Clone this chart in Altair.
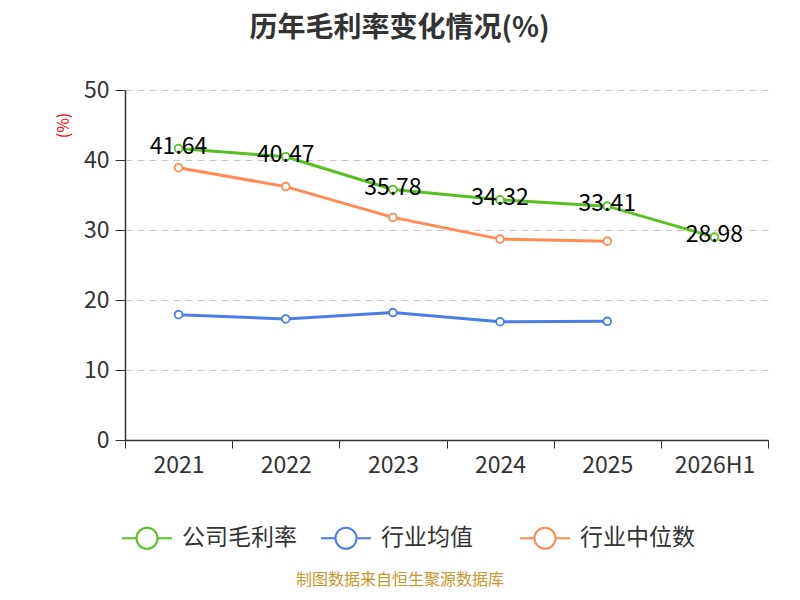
import pandas as pd
import altair as alt

# data
years = ["2021", "2022", "2023", "2024", "2025", "2026H1"]
company = [41.64, 40.47, 35.78, 34.32, 33.41, 28.98]
industry_avg = [17.9, 17.3, 18.2, 16.9, 16.95, None]
industry_median = [38.9, 36.2, 31.8, 28.7, 28.4, None]

series_names = ["公司毛利率", "行业均值", "行业中位数"]
series_colors = ["#55c220", "#4a7ee6", "#ff8a52"]

rows = []
for name, values in zip(series_names, [company, industry_avg, industry_median]):
    for y, v in zip(years, values):
        if v is not None:
            rows.append({"year": y, "series": name, "value": v})
df = pd.DataFrame(rows)
labels_df = df[df["series"] == "公司毛利率"]

FONT = "Noto Sans CJK SC"

# legend symbol: short line with hollow circle in the middle
legend_path = "M-1,0L-0.42,0M0.42,0L1,0M0.42,0A0.42,0.42,0,1,1,-0.42,0A0.42,0.42,0,1,1,0.42,0"

x = alt.X(
    "year:N",
    sort=years,
    bandPosition=0.5,
    scale=alt.Scale(type="band", domain=years, paddingInner=0, paddingOuter=0),
    axis=alt.Axis(
        title=None, labelAngle=0, tickBand="extent", grid=False,
        labelFontSize=23, labelColor="#333333", labelPadding=6,
        domainColor="#333333", tickColor="#333333", tickSize=8, domainWidth=1.5,
    ),
)
y = alt.Y(
    "value:Q",
    scale=alt.Scale(domain=[0, 50]),
    axis=alt.Axis(
        values=[0, 10, 20, 30, 40, 50], title="(%)", titleColor="red",
        titleFontSize=16, titleFontWeight="normal", titleAngle=-90,
        titleX=-62, titleY=35, titleAlign="center", titleBaseline="middle",
        labelFontSize=23, labelColor="#333333", labelPadding=6,
        domainColor="#333333", tickColor="#333333", tickSize=10, domainWidth=1.5,
        gridColor="#c8c8c8", gridDash=[7, 5], gridWidth=1.2,
    ),
)
color_scale = alt.Scale(domain=series_names, range=series_colors)
color = alt.Color(
    "series:N",
    scale=color_scale,
    legend=alt.Legend(
        title=None, orient="none", direction="horizontal", legendX=-4, legendY=422,
        symbolType=legend_path, symbolSize=2500, symbolStrokeWidth=2,
        symbolFillColor="white", labelFontSize=23, labelColor="#333333",
        labelOffset=9, columnPadding=20, gridAlign="all", padding=0,
    ),
)

lines = alt.Chart(df).mark_line(strokeWidth=3).encode(x=x, y=y, color=color)

points = alt.Chart(df).mark_point(
    filled=False, fill="white", fillOpacity=1, size=60, strokeWidth=1.8, opacity=1
).encode(
    x=x, y=y,
    stroke=alt.Stroke("series:N", scale=color_scale, legend=None),
)

labels = alt.Chart(labels_df).mark_text(
    fontSize=23, color="black", baseline="middle", dy=-2, font=FONT
).encode(x=x, y=y, text=alt.Text("value:Q", format=".2f"))

footer = alt.Chart(pd.DataFrame({"t": ["制图数据来自恒生聚源数据库"]})).mark_text(
    fontSize=16, color="#c9962e", font=FONT, baseline="middle"
).encode(x=alt.value(275), y=alt.value(490), text="t:N")

chart = (lines + points + labels + footer).properties(
    width=643,
    height=350,
    autosize=alt.AutoSizeParams(type="none"),
    padding={"left": 117, "top": 82, "right": 16, "bottom": 152},
    title=alt.TitleParams(
        "历年毛利率变化情况(%)", fontSize=28, fontWeight="bold", color="#333333",
        anchor="middle", dx=-47, offset=36, font=FONT,
    ),
).configure(font=FONT).configure_view(stroke=None)

chart.save("out.html", embed_options={"renderer": "svg", "actions": False})
